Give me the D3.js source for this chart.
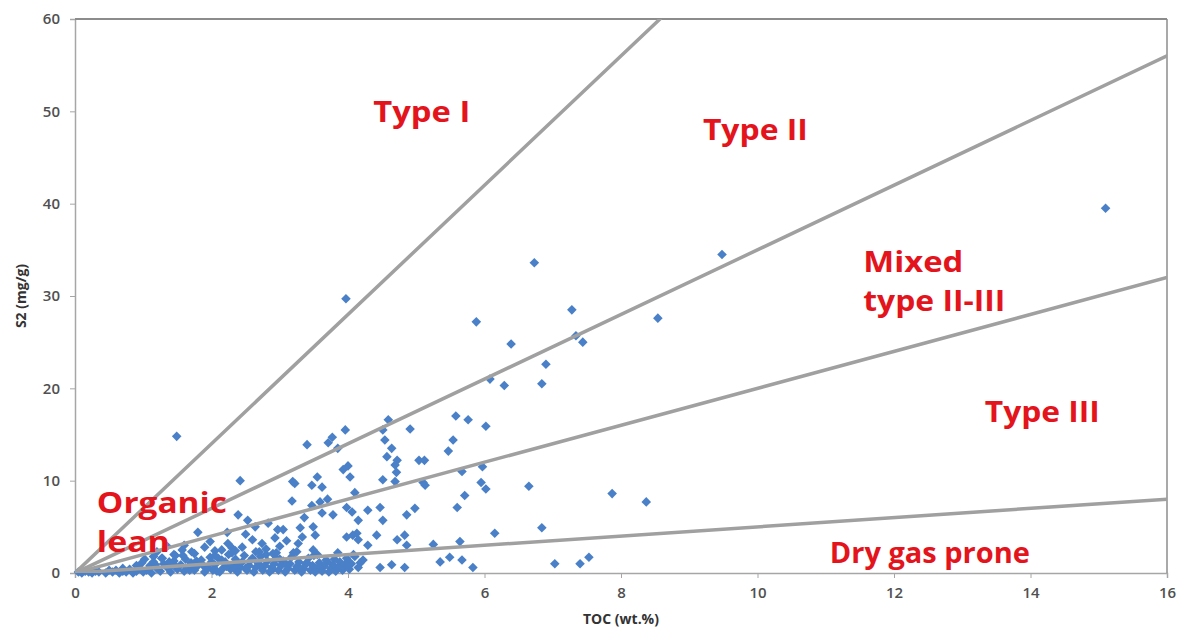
<!DOCTYPE html>
<html><head><meta charset="utf-8">
<script src="https://cdn.jsdelivr.net/npm/d3@7"></script>
<style>body{margin:0;background:#fff}svg{display:block}</style>
</head><body><svg id="c" width="1180" height="630"></svg>
<script>
// TOC (wt.%) values of samples
const toc = [
15.1,9.48,6.73,3.97,7.28,8.54,5.88,6.39,7.34,7.44,6.90,6.08,6.29,6.84,1.49,6.02,5.97,5.95,6.02,6.65,
7.87,8.37,6.15,6.84,7.03,7.40,7.53,5.58,5.76,4.91,5.54,5.47,5.04,5.12,4.51,4.59,4.54,4.64,4.57,4.69,
4.71,4.72,3.96,3.77,3.40,3.71,3.85,3.93,4.00,4.03,3.19,3.55,3.47,3.62,4.51,4.69,5.10,5.67,2.42,3.22,
3.18,3.47,3.59,4.10,3.98,4.06,4.15,4.29,3.78,4.47,4.51,4.86,4.98,5.13,5.71,5.60,3.05,3.30,3.49,3.33,
3.52,3.27,3.49,3.98,4.13,4.15,4.29,4.72,4.83,4.86,5.25,5.64,5.35,5.49,5.67,5.83,4.18,4.22,4.47,4.64,
4.83,1.80,1.98,2.23,2.39,2.53,2.64,2.83,2.97,2.93,2.74,2.45,2.30,2.15,2.05,1.71,1.47,1.57,1.27,0.98,
0.05,0.10,0.15,0.20,0.25,0.30,0.35,0.45,0.55,0.60,0.65,0.70,0.75,0.80,0.85,0.90,0.95,1.00,
1.05,1.10,1.12,1.15,1.20,1.25,1.30,1.35,1.40,1.45,1.50,1.55,1.60,1.62,1.65,1.70,1.75,1.80,1.85,1.90,1.95,2.00,
2.02,2.05,2.10,2.12,2.18,2.20,2.25,2.28,2.32,2.35,2.38,2.42,2.45,2.48,2.52,2.55,2.58,2.62,2.65,2.68,2.72,2.75,2.78,2.82,2.85,2.88,2.92,2.95,2.98,
3.02,3.05,3.08,3.12,3.15,3.18,3.22,3.25,3.28,3.32,3.35,3.38,3.42,3.45,3.48,3.52,3.55,3.58,3.62,3.65,3.68,3.72,3.75,3.78,3.82,3.85,3.88,3.92,3.95,3.98,4.02,4.05,4.10,4.15,
1.20,1.35,1.60,1.90,2.24,2.60,2.80,3.00,3.10,2.50,4.07,4.42,3.62,3.70,3.36,2.70,2.90,1.40,1.75,2.35,
0.50,0.70,0.90,1.02,1.08,1.18,1.28,1.38,1.48,1.58,1.68,1.78,1.88,1.98,2.08,2.15,2.22,2.30,2.40,2.50,
2.60,2.70,2.80,2.90,3.00,3.10,3.20,3.30,3.40,3.50,3.60,3.70,3.80,3.90,4.00,4.08,1.15,1.45,1.75,2.05,
2.35,2.65,2.95,3.25,3.55,3.85
];
// S2 (mg/g) values of samples
const s2 = [
39.5,34.5,33.6,29.7,28.5,27.6,27.2,24.8,25.7,25.0,22.6,21.0,20.3,20.5,14.8,15.9,11.5,9.8,9.1,9.4,
8.6,7.7,4.3,4.9,1.0,1.0,1.7,17.0,16.6,15.6,14.4,13.2,12.2,12.2,15.5,16.6,14.4,13.5,12.6,11.7,
10.9,12.2,15.5,14.7,13.9,14.1,13.5,11.2,11.6,10.4,9.9,10.4,9.5,9.3,10.1,9.9,9.8,11.0,10.0,9.7,
7.8,7.3,7.7,8.7,7.1,6.6,5.7,6.8,6.3,7.1,5.7,6.3,7.0,9.5,8.4,7.1,4.7,4.9,5.0,3.9,
4.1,3.2,2.5,3.9,4.3,3.6,3.0,3.6,4.1,3.0,3.1,3.4,1.2,1.7,1.4,0.6,1.1,1.4,0.6,0.9,
0.6,4.4,3.4,4.4,6.3,5.7,5.0,5.4,4.7,3.8,3.2,2.8,2.7,2.5,1.9,2.3,1.9,2.5,1.6,1.1,
0.1,0.0,0.2,0.1,0.0,0.2,0.1,0.0,0.1,0.3,0.0,0.2,0.1,0.4,0.0,0.2,0.5,0.1,
0.3,0.8,0.0,1.2,0.5,0.2,1.0,0.6,0.1,1.3,0.4,0.9,0.2,1.5,0.6,1.1,0.3,0.8,1.4,0.1,0.6,1.2,
0.3,0.9,1.6,0.1,0.6,1.2,2.0,0.4,0.9,1.5,0.1,0.6,1.2,1.9,0.3,0.8,1.4,0.1,0.6,1.1,1.8,0.3,0.8,1.3,0.1,0.6,1.0,1.6,0.3,
0.8,1.3,0.1,0.5,1.0,1.8,0.3,0.7,1.2,0.1,0.5,1.0,1.6,0.3,0.8,0.1,0.5,1.1,0.2,0.7,1.4,0.1,0.5,0.9,0.2,0.6,1.2,0.3,0.8,1.6,0.4,1.0,1.8,0.6,
2.3,2.9,3.0,2.8,3.2,3.6,2.6,2.9,3.5,4.2,4.1,4.1,6.5,8.0,6.0,2.3,2.1,0.7,0.5,0.4,
0.3,0.5,0.8,1.5,0.4,0.9,1.6,1.2,0.7,1.9,0.3,1.3,0.8,1.7,0.2,1.4,0.7,2.2,1.0,0.5,
1.6,0.9,2.0,0.4,1.5,0.9,2.2,0.5,1.1,1.9,0.8,1.2,1.5,0.6,1.3,2.0,1.8,2.0,2.1,2.4,
2.4,2.3,2.2,2.3,2.0,2.2
];
// Boundary lines: S2/TOC slope (HI/100)
const lineNames = ["Type I / II","Type II / Mixed","Mixed / Type III","Type III / Dry gas"];
const lineSlopes = [7, 3.5, 2, 0.5];
// Region labels
const labelLines = [["Type I"],["Type II"],["Mixed","type II-III"],["Type III"],["Organic","lean"],["Dry gas prone"]];
const labelAt = [[4.37,48.8],[9.2,46.9],[11.55,32.6],[13.33,16.35],[0.32,6.5],[11.06,1.1]];
const labelWidths = [[97],[105],[100,142],[115],[130,73],[200]];
const xTicks = [0,2,4,6,8,10,12,14,16];
const yTicks = [0,10,20,30,40,50,60];
const xTitle = "TOC (wt.%)", yTitle = "S2 (mg/g)";

const svg = d3.select("#c");
const m = {l:75, r:1167, t:19, b:573};
const x = d3.scaleLinear().domain([0,16]).range([m.l,m.r]);
const y = d3.scaleLinear().domain([0,60]).range([m.b,m.t]);

svg.append("defs").append("clipPath").attr("id","clip").append("rect")
  .attr("x",m.l).attr("y",m.t).attr("width",m.r-m.l).attr("height",m.b-m.t);

// axes
const xa = svg.append("g").attr("transform",`translate(0,${m.b})`)
  .call(d3.axisBottom(x).tickValues(xTicks).tickSize(5).tickPadding(9));
const ya = svg.append("g").attr("transform",`translate(${m.l},0)`)
  .call(d3.axisLeft(y).tickValues(yTicks).tickSize(5).tickPadding(10));
[xa,ya].forEach(a=>{
  a.selectAll("path").attr("stroke","#a6a6a6").attr("stroke-width",1.5);
  a.selectAll("line").attr("stroke","#a6a6a6");
  a.selectAll("text").attr("fill","#505050").attr("font-family","'Open Sans',sans-serif")
   .attr("font-size",15).attr("font-weight","600");
});
// top & right border
svg.append("line").attr("x1",m.l).attr("x2",m.r).attr("y1",m.t).attr("y2",m.t).attr("stroke","#8c8c8c").attr("stroke-width",2);
svg.append("line").attr("x1",m.r).attr("x2",m.r).attr("y1",m.t).attr("y2",m.b).attr("stroke","#8c8c8c").attr("stroke-width",1.5);

// points
const pts = toc.map((t,i)=>({t, s:s2[i]}));
const sym = d3.symbol().type(d3.symbolSquare).size(46);
svg.append("g").selectAll("path").data(pts).join("path")
  .attr("d",sym).attr("fill","#4a80c8")
  .attr("transform",d=>`translate(${x(d.t)},${y(d.s)}) rotate(45)`);

// boundary lines
svg.append("g").attr("clip-path","url(#clip)").selectAll("line").data(lineSlopes).join("line")
  .attr("x1",x(0)).attr("y1",y(0))
  .attr("x2",d=>x(Math.min(16,60/d))).attr("y2",d=>y(Math.min(16,60/d)*d))
  .attr("stroke","#a0a0a0").attr("stroke-width",3.5).attr("stroke-linecap","round");

// labels
labelLines.forEach((ls,i)=>{
  ls.forEach((t,j)=>{
    svg.append("text").attr("x",x(labelAt[i][0])).attr("y",y(labelAt[i][1])+j*39)
      .attr("font-family","'Open Sans',sans-serif").attr("font-weight","700").attr("font-size",28)
      .attr("fill","#e3141c").attr("textLength",labelWidths[i][j]).attr("lengthAdjust","spacingAndGlyphs")
      .text(t);
  });
});

// titles
svg.append("text").attr("x",(m.l+m.r)/2).attr("y",624).attr("text-anchor","middle")
  .attr("font-family","'Open Sans',sans-serif").attr("font-weight","700").attr("font-size",14).attr("fill","#333")
  .text(xTitle);
svg.append("text").attr("transform",`translate(26,${(m.t+m.b)/2}) rotate(-90)`).attr("text-anchor","middle")
  .attr("font-family","'Open Sans',sans-serif").attr("font-weight","700").attr("font-size",14).attr("fill","#333")
  .text(yTitle);
</script></body></html>
